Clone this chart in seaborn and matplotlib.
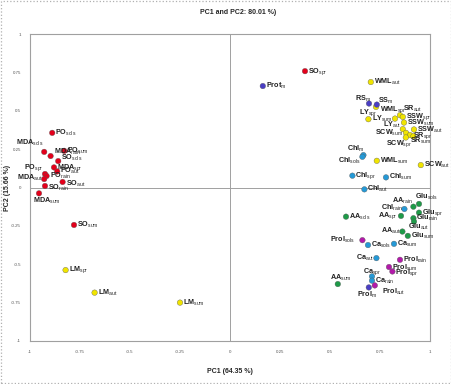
import numpy as np
import pandas as pd
import matplotlib
matplotlib.use("Agg")
import matplotlib.pyplot as plt
from matplotlib.patches import Rectangle
import seaborn as sns

# variable names, subscripts, scores on PC1 / PC2 and colour group
names = ["PO", "MDA", "MDA", "PO", "SO", "MDA", "PO", "PO", "PO", "MDA",
         "SO", "SO", "MDA", "SO", "SO",
         "LM", "LM", "LM", "WML", "WML", "LY", "LY", "SR", "SSW", "SSW",
         "LY", "SSW", "SCW", "SR", "SR", "SCW", "SCW", "WML",
         "Prot", "RS", "SS", "Prol",
         "Chl", "Chl", "Chl", "Chl", "Chl", "Chl",
         "Ca", "Ca", "Ca", "Ca", "Ca",
         "AA", "Glu", "Glu", "Glu", "AA", "AA", "Glu", "AA", "Glu", "AA",
         "Prol", "Prol", "Prol", "Prol", "Prol"]
subs = ["sols", "sols", "rain", "sum", "sols", "spr", "aut", "spr", "rain", "aut",
        "aut", "rain", "sum", "sum", "spr",
        "spr", "aut", "sum", "aut", "spr", "spr", "sum", "aut", "spr", "sum",
        "aut", "aut", "sum", "spr", "sum", "spr", "aut", "sum",
        "m", "m", "m", "m",
        "m", "sols", "spr", "sum", "aut", "rain",
        "sols", "sum", "aut", "spr", "rain",
        "rain", "sols", "spr", "rain", "spr", "sols", "aut", "aut", "sum", "sum",
        "sols", "rain", "sum", "spr", "aut"]
pc1 = [-0.889, -0.929, -0.897, -0.829, -0.859, -0.880, -0.864, -0.925, -0.917, -0.929,
       -0.837, -0.925, -0.955, -0.780, 0.375,
       -0.822, -0.677, -0.250, 0.704, 0.730, 0.692, 0.825, 0.850, 0.864, 0.870,
       0.864, 0.920, 0.880, 0.900, 0.917, 0.879, 0.954, 0.734,
       0.164, 0.695, 0.734, 0.694,
       0.667, 0.662, 0.612, 0.780, 0.672, 0.872,
       0.690, 0.820, 0.732, 0.710, 0.710,
       0.917, 0.945, 0.945, 0.917, 0.855, 0.580, 0.920, 0.862, 0.889, 0.539,
       0.662, 0.850, 0.795, 0.812, 0.724]
pc2 = [0.356, 0.232, 0.205, 0.239, 0.172, 0.131, 0.105, 0.088, 0.075, 0.055,
       0.036, 0.010, -0.038, -0.244, 0.758,
       -0.538, -0.685, -0.750, 0.687, 0.525, 0.445, 0.449, 0.471, 0.460, 0.423,
       0.380, 0.378, 0.356, 0.341, 0.334, 0.326, 0.146, 0.174,
       0.661, 0.547, 0.540, -0.651,
       0.211, 0.200, 0.077, 0.066, -0.012, -0.140,
       -0.375, -0.367, -0.460, -0.579, -0.607,
       -0.125, -0.107, -0.164, -0.200, -0.185, -0.190, -0.222, -0.287, -0.315, -0.629,
       -0.343, -0.471, -0.518, -0.547, -0.638]
groups = (["oxidative"] * 15 + ["growth"] * 18 + ["protein"] * 4 + ["pigment"] * 11
          + ["amino"] * 10 + ["proline"] * 5)

palette = {"oxidative": "#e3001b", "growth": "#f0e400", "protein": "#4a3ec4",
           "pigment": "#2599d6", "amino": "#1e9a48", "proline": "#b21aa9"}

# label placement (pixels: dx right, dy up, alignment); default is right of the dot
label_pos = {
    "MDA_sols": (-1, 9, "right"), "MDA_rain": (3, 4, "left"), "PO_spr": (-1, 6, "right"),
    "MDA_aut": (-2, 1, "right"), "MDA_sum": (-6, -8, "left"), "SO_sols": (3, 3, "left"),
    "SO_aut": (3, -2, "left"), "SO_rain": (3, -2, "left"),
    "RS_m": (2, 5, "right"), "SS_m": (1, 4, "left"), "WML_spr": (4, -3, "left"),
    "LY_spr": (0, 7, "center"), "LY_sum": (-2, 0, "right"), "SR_aut": (3, 6, "left"),
    "LY_aut": (-1, 4, "right"), "SCW_sum": (-3, 0, "right"), "SR_sum": (-3, -5, "left"),
    "SCW_spr": (6, -6, "right"), "Chl_m": (1, 6, "right"), "Chl_sols": (-2, -4, "right"),
    "Chl_rain": (-2, 1, "right"), "AA_rain": (-1, 6, "right"), "Glu_sols": (-4, 7, "left"),
    "AA_spr": (-3, 0, "right"), "Glu_aut": (-6, -5, "left"), "AA_aut": (-2, 1, "right"),
    "Prol_sols": (-7, 0, "right"), "Ca_aut": (-2, 0, "right"), "Ca_spr": (0, 5, "center"),
    "AA_sum": (3, 6, "center"), "Prol_aut": (7, -6, "left"), "Prol_m": (-2, -7, "center"),
    "Prol_sum": (3, -1, "left"), "Prol_spr": (3, -1, "left"),
}

df = pd.DataFrame({"name": names, "sub": subs, "PC1": pc1, "PC2": pc2, "group": groups})

sns.set_theme(style="white")
plt.rcParams["font.family"] = ["Liberation Sans", "DejaVu Sans"]
plt.rcParams["mathtext.fontset"] = "custom"
plt.rcParams["mathtext.rm"] = "Liberation Sans"
plt.rcParams["mathtext.bf"] = "Liberation Sans:bold"
plt.rcParams["mathtext.it"] = "Liberation Sans:italic"

fig = plt.figure(figsize=(4.52, 3.84), dpi=100)
ax = fig.add_axes([30 / 452, 1 - 341 / 384, 400 / 452, 307 / 384])

ax.axhline(0, color="#a0a0a0", lw=0.7, zorder=0)
ax.axvline(0, color="#a0a0a0", lw=0.7, zorder=0)

sns.scatterplot(data=df, x="PC1", y="PC2", hue="group", palette=palette, ax=ax,
                s=16, edgecolor="#555555", linewidth=0.25, legend=False, zorder=3)

px = 0.72  # one pixel in points at 100 dpi
for _, r in df.iterrows():
    key = f"{r['name']}_{r['sub']}"
    dx, dy, ha = label_pos.get(key, (3, 0, "left"))
    ax.annotate(rf"$\mathbf{{{r['name']}}}_{{\mathrm{{{r['sub']}}}}}$",
                (r["PC1"], r["PC2"]), xytext=(dx * px, dy * px),
                textcoords="offset points", ha=ha, va="center",
                fontsize=5.2, color="#222222", zorder=4)

ax.set_xlim(-1, 1)
ax.set_ylim(-1, 1)
ticks = np.arange(-1, 1.01, 0.25)
tick_labels = ["-1", "-0.75", "-0.5", "-0.25", "0", "0.25", "0.5", "0.75", "1"]
ax.set_xticks(ticks)
ax.set_xticklabels(tick_labels)
ax.set_yticks(ticks)
ax.set_yticklabels(tick_labels)
ax.tick_params(labelsize=3.2, colors="#555555", length=1.5, width=0.5, pad=5)
for sp in ax.spines.values():
    sp.set_color("#a0a0a0")
    sp.set_linewidth(0.8)

ax.set_xlabel("PC1 (64.35 %)", fontsize=5, fontweight="bold", labelpad=10)
ax.set_ylabel("PC2 (15.66 %)", fontsize=5, fontweight="bold", labelpad=0)
fig.text(238 / 452, 1 - 13 / 384, "PC1 and PC2: 80.01 %)", fontsize=5,
         fontweight="bold", ha="center", va="center")

fig.patches.append(Rectangle((0.003, 0.003), 0.994, 0.994, transform=fig.transFigure,
                             fill=False, ls=":", ec="#b0b0b0", lw=0.9))

fig.savefig("out.png", dpi=100)
